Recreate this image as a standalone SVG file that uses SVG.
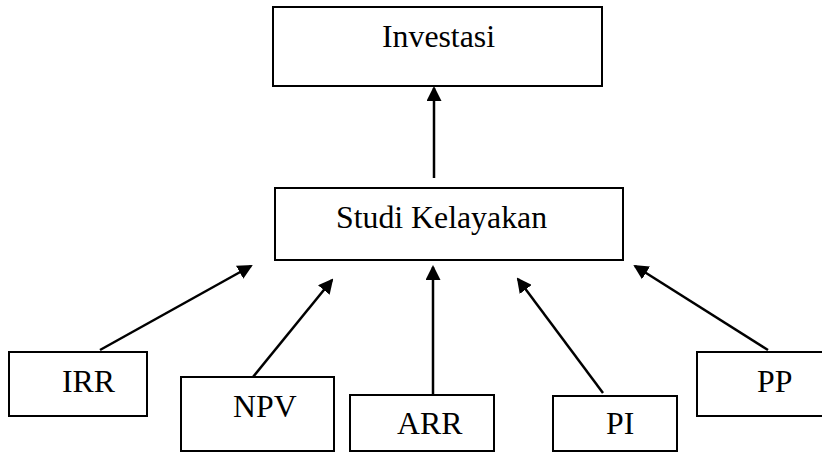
<svg xmlns="http://www.w3.org/2000/svg" width="822" height="452" viewBox="0 0 822 452">
<style>
.box{fill:#fff;stroke:#000;stroke-width:2}
.lbl{font-family:"Liberation Serif","Times New Roman",serif;font-size:31.8px;fill:#000}
.conn{stroke:#000;stroke-width:2.5;fill:none;marker-end:url(#ah)}
</style>
<defs>
<marker id="ah" viewBox="0 0 15 15" refX="13" refY="7.5" markerWidth="15" markerHeight="15" markerUnits="userSpaceOnUse" orient="auto">
<path d="M0,0 L15,7.5 L0,15 z" fill="#000"/>
</marker>
</defs>
<rect width="822" height="452" fill="#fff"/>
<g id="investasi"><rect class="box" x="273" y="7" width="329" height="79"/><text class="lbl" x="382" y="47">Investasi</text></g>
<g id="studi"><rect class="box" x="275" y="188" width="348" height="72"/><text class="lbl" x="336" y="228">Studi Kelayakan</text></g>
<g id="irr"><rect class="box" x="9" y="352" width="138" height="64"/><text class="lbl" x="62" y="392">IRR</text></g>
<g id="npv"><rect class="box" x="181" y="377" width="153" height="74"/><text class="lbl" x="233" y="417">NPV</text></g>
<g id="arr"><rect class="box" x="350" y="395" width="144" height="56"/><text class="lbl" x="397" y="434">ARR</text></g>
<g id="pi"><rect class="box" x="553" y="396" width="124" height="55"/><text class="lbl" x="606" y="434">PI</text></g>
<g id="pp"><rect class="box" x="697" y="352" width="135" height="64"/><text class="lbl" x="757" y="392">PP</text></g>
<g id="connectors">
<line class="conn" x1="434" y1="178" x2="434" y2="88"/>
<line class="conn" x1="100" y1="350" x2="251" y2="266"/>
<line class="conn" x1="253" y1="377" x2="332" y2="280"/>
<line class="conn" x1="433" y1="396" x2="433" y2="267"/>
<line class="conn" x1="603" y1="393" x2="518" y2="279"/>
<line class="conn" x1="768" y1="350" x2="635" y2="266"/>
</g>
</svg>
